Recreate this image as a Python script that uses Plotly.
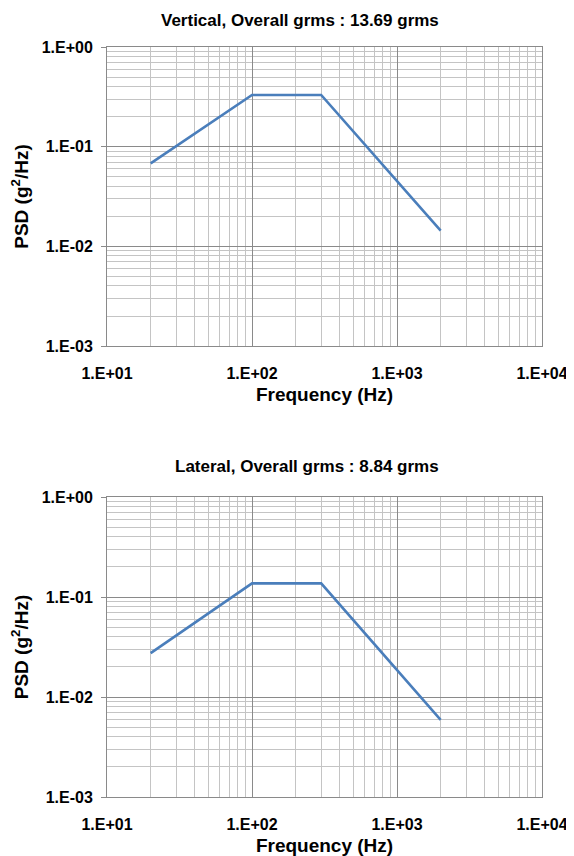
import plotly.graph_objects as go
from plotly.subplots import make_subplots

freq = [20, 100, 300, 2000]
psd_vertical = [0.068, 0.33, 0.33, 0.0144]
psd_lateral = [0.0275, 0.137, 0.137, 0.0059]

titles = ["Vertical, Overall grms : 13.69 grms", "Lateral, Overall grms : 8.84 grms"]
x_tickvals = [10, 100, 1000, 10000]
x_ticktext = ["1.E+01", "1.E+02", "1.E+03", "1.E+04"]
y_tickvals = [0.001, 0.01, 0.1, 1]
y_ticktext = ["1.E-03", "1.E-02", "1.E-01", "1.E+00"]

# page body has an 8px default margin, so the figure is drawn 8px smaller
OFF = 8
W, H = 574 - OFF, 856 - OFF
FONT = "Liberation Sans, Arial, sans-serif"
LINE = "#4a7ebb"
L, R = 106.5 - OFF, 542 - OFF


def py(y):
    return 1 - (y - OFF) / H


fig = make_subplots(rows=2, cols=1)
fig.add_trace(go.Scatter(x=freq, y=psd_vertical, mode="lines",
                         line=dict(color=LINE, width=2.6)), row=1, col=1)
fig.add_trace(go.Scatter(x=freq, y=psd_lateral, mode="lines",
                         line=dict(color=LINE, width=2.6)), row=2, col=1)

top_dom = [py(346), py(47)]
bot_dom = [py(797), py(497)]

axis_common = dict(
    type="log", automargin=False,
    showgrid=True, gridcolor="#8a8a8a", gridwidth=1,
    showline=True, linecolor="#8a8a8a", linewidth=1, mirror=True,
    tickfont=dict(family=FONT, size=16, color="#000", weight="bold"),
    minor=dict(dtick="D1", showgrid=True, gridcolor="#c4c4c4", gridwidth=1, ticks=""),
    zeroline=False,
)

for r, dom in ((1, top_dom), (2, bot_dom)):
    fig.update_xaxes(axis_common, row=r, col=1,
                     range=[1, 4], tickvals=x_tickvals, ticktext=x_ticktext,
                     ticks="", ticklabelstandoff=13, domain=[0, 1],
                     title=dict(text="Frequency (Hz)", standoff=6,
                                font=dict(family=FONT, size=19, color="#000", weight="bold")))
    fig.update_yaxes(axis_common, row=r, col=1,
                     range=[-3, 0], tickvals=y_tickvals, ticktext=y_ticktext,
                     ticks="outside", ticklen=5, tickcolor="#8a8a8a",
                     ticklabelstandoff=5, domain=dom,
                     title=dict(text="PSD (g<sup>2</sup>/Hz)", standoff=8,
                                font=dict(family=FONT, size=19, color="#000", weight="bold")))

fig.add_annotation(text=titles[0], xref="paper", yref="paper",
                   x=(299.5 - OFF - L) / (R - L), y=py(20), showarrow=False,
                   xanchor="center", yanchor="middle",
                   font=dict(family=FONT, size=17, color="#000", weight="bold"))
fig.add_annotation(text=titles[1], xref="paper", yref="paper",
                   x=(307 - OFF - L) / (R - L), y=py(466), showarrow=False,
                   xanchor="center", yanchor="middle",
                   font=dict(family=FONT, size=17, color="#000", weight="bold"))

fig.update_layout(
    width=W, height=H,
    margin=dict(l=L, r=W - R, t=0, b=0),
    paper_bgcolor="white", plot_bgcolor="white",
    showlegend=False,
)

fig.write_html("out.html")
